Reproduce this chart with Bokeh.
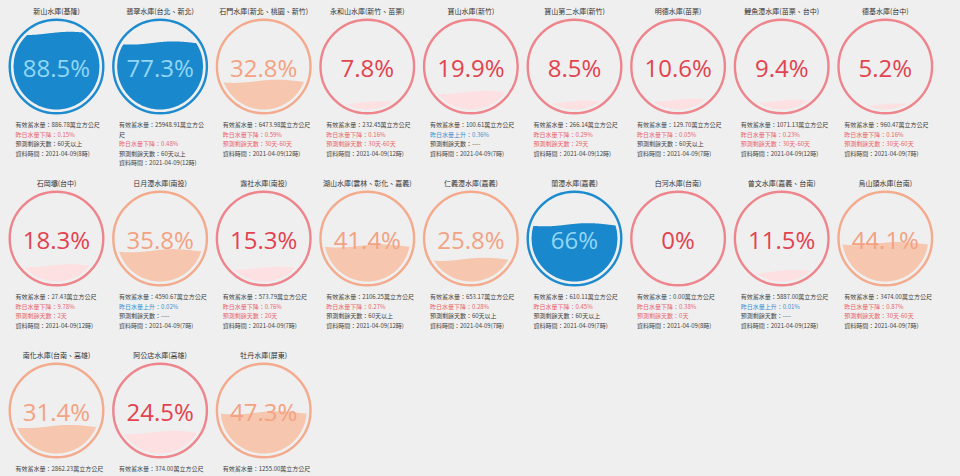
import numpy as np
from bokeh.plotting import figure
from bokeh.models import Range1d, ColumnDataSource
from bokeh.embed import file_html
from bokeh.resources import INLINE
from bokeh.core.properties import value

# ---------------- data ----------------
names = ["新山水庫(基隆)", "翡翠水庫(台北、新北)", "石門水庫(新北、桃園、新竹)", "永和山水庫(新竹、苗栗)",
         "寶山水庫(新竹)", "寶山第二水庫(新竹)", "明德水庫(苗栗)", "鯉魚潭水庫(苗栗、台中)", "德基水庫(台中)",
         "石岡壩(台中)", "日月潭水庫(南投)", "霧社水庫(南投)", "湖山水庫(雲林、彰化、嘉義)", "仁義潭水庫(嘉義)",
         "蘭潭水庫(嘉義)", "白河水庫(台南)", "曾文水庫(嘉義、台南)", "烏山頭水庫(台南)",
         "南化水庫(台南、高雄)", "阿公店水庫(高雄)", "牡丹水庫(屏東)"]
percent = [88.5, 77.3, 32.8, 7.8, 19.9, 8.5, 10.6, 9.4, 5.2,
           18.3, 35.8, 15.3, 41.4, 25.8, 66, 0, 11.5, 44.1,
           31.4, 24.5, 47.3]
storage = ["886.78", "25948.91", "6473.98", "232.45", "100.61", "266.14", "129.70", "1071.13", "960.47",
           "27.43", "4590.67", "573.79", "2106.25", "653.17", "610.11", "0.00", "5887.00", "3474.00",
           "2862.23", "374.00", "1255.00"]
change_dir = ["下降", "下降", "下降", "下降", "上升", "下降", "下降", "下降", "下降",
              "下降", "上升", "下降", "下降", "下降", "下降", "下降", "上升", "下降",
              None, None, None]
change_val = ["0.15", "0.48", "0.59", "0.16", "0.36", "0.29", "0.05", "0.23", "0.16",
              "9.78", "0.02", "0.76", "0.27", "0.28", "0.45", "0.38", "0.01", "0.87",
              None, None, None]
days_left = ["60天以上", "60天以上", "30天-60天", "30天-60天", "----", "29天", "60天以上", "30天-60天", "30天-60天",
             "2天", "----", "20天", "60天以上", "60天以上", "60天以上", "0天", "----", "30天-60天",
             None, None, None]
data_hour = ["8", "12", "12", "12", "7", "12", "7", "12", "7",
             "12", "7", "7", "12", "7", "7", "8", "12", "7",
             None, None, None]

# ---------------- layout / style ----------------
NCOL = 9
X0, DX = 56.0, 103.6
Y0, DY = 66.0, 172.0
R_RING = 46.8
R_FILL = 43.0
BG = "#efefef"
CJK = "Noto Sans CJK TC"

def palette(p):
    if p >= 50:
        return dict(ring="#1e8bcf", fill="#1a88cc", text="#91d7f6")
    if p >= 25:
        return dict(ring="#f4aa8d", fill="#f6c6ae", text="#f3a282")
    return dict(ring="#ee848c", fill="#fde0e1", text="#e2434f")

p = figure(width=960, height=476, x_range=Range1d(0, 960), y_range=Range1d(476, 0),
           output_backend="svg", toolbar_location=None, min_border=0,
           x_axis_location=None, y_axis_location=None)
p.grid.visible = False
p.outline_line_color = None
p.background_fill_color = BG
p.border_fill_color = BG

cx_l, cy_l, ring_c = [], [], []
wave_xs, wave_ys, wave_c = [], [], []
pt = dict(x=[], y=[], t=[], c=[])
tt = dict(x=[], y=[], t=[])
info = dict(x=[], y=[], t=[], c=[])

DARK = "#444444"
RED = "#e8646c"
BLUE = "#3a8fcf"

for i, name in enumerate(names):
    col, row = i % NCOL, i // NCOL
    cx = X0 + col * DX
    cy = Y0 + row * DY
    pc = percent[i]
    pal = palette(pc)
    cx_l.append(cx); cy_l.append(cy); ring_c.append(pal["ring"])

    # wave fill
    if pc > 0:
        level = cy + R_FILL - 2 * R_FILL * pc / 100.0
        xs = np.linspace(-R_FILL, R_FILL, 161)
        half = np.sqrt(np.maximum(R_FILL ** 2 - xs ** 2, 0))
        bottom = cy + half
        wave = level + 1.6 * np.sin(2 * np.pi * (xs + R_FILL) / (2 * R_FILL) + 0.6)
        top = np.minimum(np.maximum(wave, cy - half), bottom)
        wave_xs.append(list(cx + xs) + list(cx + xs[::-1]))
        wave_ys.append(list(top) + list(bottom[::-1]))
        wave_c.append(pal["fill"])

    pt["x"].append(cx); pt["y"].append(cy + 1)
    pt["t"].append(f"{pc:g}%"); pt["c"].append(pal["text"])

    tt["x"].append(cx); tt["y"].append(cy - 56); tt["t"].append(name)

    lines = []
    s1 = f"有效蓄水量：{storage[i]}萬立方公尺"
    if len(storage[i]) >= 8:
        lines.append((s1[:-1], DARK)); lines.append((s1[-1], DARK))
    else:
        lines.append((s1, DARK))
    if change_dir[i] is not None:
        lines.append((f"昨日水量{change_dir[i]}：{change_val[i]}%", RED if change_dir[i] == "下降" else BLUE))
    if days_left[i] is not None:
        lines.append((f"預測剩餘天數：{days_left[i]}", DARK if days_left[i] in ("60天以上", "----") else RED))
    if data_hour[i] is not None:
        lines.append((f"資料時間：2021-04-09({data_hour[i]}時)", DARK))
    for k, (t, c) in enumerate(lines):
        info["x"].append(cx - 41); info["y"].append(cy + 58 + k * 9.6)
        info["t"].append(t); info["c"].append(c)

p.patches(xs=wave_xs, ys=wave_ys, fill_color=wave_c, line_color=None)
p.circle(x=cx_l, y=cy_l, radius=R_RING, fill_color=None, line_color=ring_c, line_width=2.4)

p.text(x="x", y="y", text="t", text_color="c", source=ColumnDataSource(pt),
       text_font=value("Open Sans"), text_font_size="24px", text_align="center", text_baseline="middle")
p.text(x="x", y="y", text="t", source=ColumnDataSource(tt), text_color="#333333",
       text_font=value(CJK), text_font_size="7px", text_align="center", text_baseline="middle")
p.text(x="x", y="y", text="t", text_color="c", source=ColumnDataSource(info),
       text_font=value(CJK), text_font_size="6px", text_align="left", text_baseline="middle")

html = file_html(p, INLINE, title="水庫蓄水")
html = html.replace("<body>", '<body style="background-color:#efefef;">')
open("out.html", "w").write(html)
